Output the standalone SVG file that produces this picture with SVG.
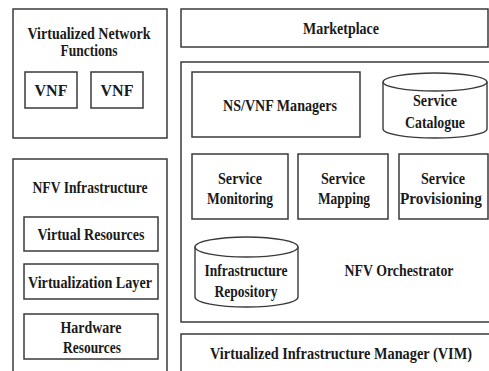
<svg xmlns="http://www.w3.org/2000/svg" width="489" height="371" viewBox="0 0 489 371">
  <style>
    .box { fill: #ffffff; stroke: #3a3a3a; stroke-width: 1.5; }
    .cyl { fill: #ffffff; stroke: #3a3a3a; stroke-width: 1.4; }
    text { font-family: "Liberation Serif", "Times New Roman", serif; font-weight: bold; font-size: 16.5px; fill: #1a1a1a; text-anchor: middle; }
  </style>
  <rect width="489" height="371" fill="#ffffff"/>

  <!-- Virtualized Network Functions -->
  <g id="vnf-group">
    <rect class="box" x="13" y="9" width="154" height="129"/>
    <text x="89" y="39" textLength="123" lengthAdjust="spacingAndGlyphs">Virtualized Network</text>
    <text x="89" y="56" textLength="57" lengthAdjust="spacingAndGlyphs">Functions</text>
  </g>
  <g id="vnf-1">
    <rect class="box" x="25" y="72" width="52" height="36"/>
    <text x="51" y="96" textLength="33" lengthAdjust="spacingAndGlyphs">VNF</text>
  </g>
  <g id="vnf-2">
    <rect class="box" x="91" y="72" width="52" height="36"/>
    <text x="117" y="96" textLength="33" lengthAdjust="spacingAndGlyphs">VNF</text>
  </g>

  <!-- NFV Infrastructure -->
  <g id="nfvi">
    <rect class="box" x="13" y="159" width="154" height="220"/>
    <text x="90" y="193" textLength="115" lengthAdjust="spacingAndGlyphs">NFV Infrastructure</text>
  </g>
  <g id="virtual-resources">
    <rect class="box" x="24" y="217" width="134" height="34"/>
    <text x="91" y="240" textLength="107" lengthAdjust="spacingAndGlyphs">Virtual Resources</text>
  </g>
  <g id="virtualization-layer">
    <rect class="box" x="24" y="264" width="134" height="35"/>
    <text x="90" y="288" textLength="124" lengthAdjust="spacingAndGlyphs">Virtualization Layer</text>
  </g>
  <g id="hardware-resources">
    <rect class="box" x="24" y="314" width="134" height="45"/>
    <text x="91" y="333" textLength="61" lengthAdjust="spacingAndGlyphs">Hardware</text>
    <text x="92" y="353" textLength="58" lengthAdjust="spacingAndGlyphs">Resources</text>
  </g>

  <!-- Marketplace -->
  <g id="marketplace">
    <rect class="box" x="181" y="9" width="307" height="38"/>
    <text x="341" y="34" textLength="76" lengthAdjust="spacingAndGlyphs">Marketplace</text>
  </g>

  <!-- NFV Orchestrator -->
  <g id="nfv-orchestrator">
    <rect class="box" x="181" y="62" width="320" height="260"/>
    <text x="399" y="276" textLength="109" lengthAdjust="spacingAndGlyphs">NFV Orchestrator</text>
  </g>
  <g id="ns-vnf-managers">
    <rect class="box" x="192" y="72" width="168" height="65"/>
    <text x="280" y="111" textLength="114" lengthAdjust="spacingAndGlyphs">NS/VNF Managers</text>
  </g>
  <g id="service-catalogue">
    <path class="cyl" d="M383,82 A52,9 0 0 1 487,82 L487,129 A52,9 0 0 1 383,129 Z"/>
    <path class="cyl" fill="none" d="M383,82 A52,9 0 0 0 487,82"/>
    <text x="435" y="106" textLength="44" lengthAdjust="spacingAndGlyphs">Service</text>
    <text x="435" y="128" textLength="60" lengthAdjust="spacingAndGlyphs">Catalogue</text>
  </g>
  <g id="service-monitoring">
    <rect class="box" x="192" y="154" width="96" height="65"/>
    <text x="240" y="184" textLength="44" lengthAdjust="spacingAndGlyphs">Service</text>
    <text x="240" y="204" textLength="66" lengthAdjust="spacingAndGlyphs">Monitoring</text>
  </g>
  <g id="service-mapping">
    <rect class="box" x="298" y="154" width="90" height="65"/>
    <text x="343" y="184" textLength="44" lengthAdjust="spacingAndGlyphs">Service</text>
    <text x="344" y="204" textLength="52" lengthAdjust="spacingAndGlyphs">Mapping</text>
  </g>
  <g id="service-provisioning">
    <rect class="box" x="399" y="154" width="89" height="65"/>
    <text x="443" y="184" textLength="44" lengthAdjust="spacingAndGlyphs">Service</text>
    <text x="441" y="204" textLength="82" lengthAdjust="spacingAndGlyphs">Provisioning</text>
  </g>
  <g id="infrastructure-repository">
    <path class="cyl" d="M195,247 A51.5,10 0 0 1 298,247 L298,297 A51.5,10 0 0 1 195,297 Z"/>
    <path class="cyl" fill="none" d="M195,247 A51.5,10 0 0 0 298,247"/>
    <text x="246" y="276" textLength="83" lengthAdjust="spacingAndGlyphs">Infrastructure</text>
    <text x="246" y="297" textLength="63" lengthAdjust="spacingAndGlyphs">Repository</text>
  </g>

  <!-- Virtualized Infrastructure Manager -->
  <g id="vim">
    <rect class="box" x="181" y="334" width="320" height="50"/>
    <text x="341" y="359" textLength="262" lengthAdjust="spacingAndGlyphs">Virtualized Infrastructure Manager (VIM)</text>
  </g>

  <g id="connectors"></g>
</svg>
